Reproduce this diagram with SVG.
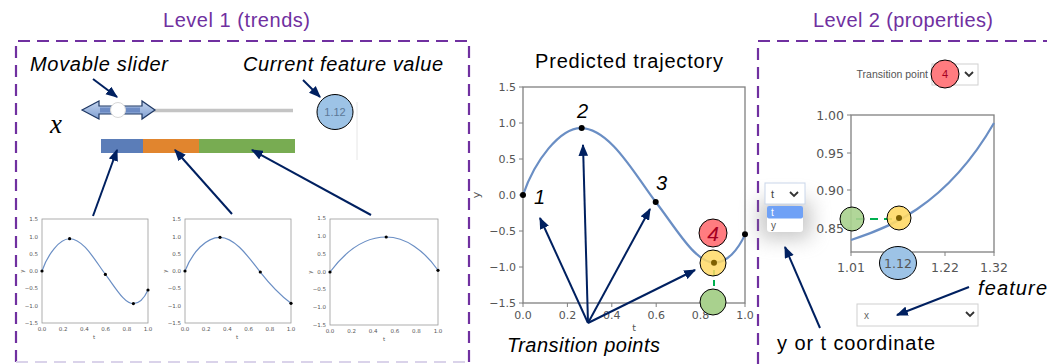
<svg xmlns="http://www.w3.org/2000/svg" width="1047" height="364" viewBox="0 0 1047 364">
<style>
.title{font-family:"Liberation Sans",Arial,sans-serif;font-size:20px;fill:#7030A0}
.lbl{font-family:"Liberation Sans",Arial,sans-serif;font-size:20px;fill:#000}
.it{font-style:italic}
.tk{font-family:"DejaVu Sans",sans-serif;font-size:11px;fill:#555}
.tks{font-family:"DejaVu Sans",sans-serif;font-size:5.5px;fill:#555}
.tkr{font-family:"DejaVu Sans",sans-serif;font-size:12.5px;fill:#555}
.ax{fill:#fff;stroke:#808080;stroke-width:1.3}
.axs{fill:#fff;stroke:#999;stroke-width:0.8}
.curve{fill:none;stroke:#6A8EC4;stroke-width:2.2}
.curves{fill:none;stroke:#6A8EC4;stroke-width:1.2}
.arr{fill:none;stroke:#002060;stroke-width:2;marker-end:url(#ah)}
.box{fill:none;stroke:#7030A0;stroke-width:2.2;stroke-dasharray:12 7}
.dd{fill:#fff;stroke:#D0D0D0;stroke-width:1}
.chev{fill:none;stroke:#333;stroke-width:1.8}
</style>
<defs>
<marker id="ah" viewBox="0 0 10 8" refX="9" refY="4" markerWidth="6" markerHeight="5" orient="auto" markerUnits="strokeWidth">
<path d="M0,0 L10,4 L0,8 Z" fill="#002060"/>
</marker>
<linearGradient id="sl" x1="0" y1="0" x2="0" y2="1">
<stop offset="0" stop-color="#C5D5EE"/>
<stop offset="1" stop-color="#7F9FD2"/>
</linearGradient>
<filter id="blur" x="-80%" y="-80%" width="260%" height="260%"><feGaussianBlur stdDeviation="10"/></filter>
<path id="c1" vector-effect="non-scaling-stroke" d="M0,0 C5.4,-48.6 16.7,-93 26,-93 C39.2,-93 50.5,-27.8 59.8,9.7 C68.9,45.8 77.5,94 86.2,94 C91.9,94 96.8,76.4 100,55"/>
<path id="c2" vector-effect="non-scaling-stroke" d="M0,0 C7,-55 20,-97 33,-97 C47,-97 60,-40 71,3 C80,38 90,70 100,93"/>
<path id="c3" vector-effect="non-scaling-stroke" d="M0,0 C15,-62 33,-100 52,-100 C70,-100 87,-62 100,-5"/>
</defs>
<rect width="1047" height="364" fill="#fff"/>

<!-- Level boxes -->
<g id="level1">
<text class="title" x="163" y="27" textLength="147">Level 1 (trends)</text>
<path class="box" d="M16,362 L16,41 L469,41 L469,362"/>
<path d="M16,362 L469,362" fill="none" stroke="#DAD3EA" stroke-width="2.2" stroke-dasharray="12 7"/>
</g>
<g id="level2">
<text class="title" x="813" y="27" textLength="180">Level 2 (properties)</text>
<path class="box" d="M758,364 L758,41 L1050,41"/>
</g>

<!-- slider -->
<g id="slider">
<text class="lbl it" x="30" y="71" textLength="138">Movable slider</text>
<line x1="150" y1="110.5" x2="293" y2="110.5" stroke="#C4C4C4" stroke-width="3.5"/>
<path d="M82,110 L99,101 L99,106 L142,106 L142,101 L155,110 L142,119 L142,114 L99,114 L99,119 Z" fill="url(#sl)" stroke="#1F3864" stroke-width="1.2"/>
<rect x="100" y="107.5" width="40" height="5" fill="#5F80BD" opacity="0.8"/>
<circle cx="118" cy="110" r="7.5" fill="#fff" stroke="#D8D8D8" stroke-width="1"/>
<text x="50" y="133" font-family="Liberation Serif,serif" font-style="italic" font-size="27" fill="#000">x</text>
</g>
<g id="value">
<text class="lbl it" x="243" y="71" textLength="200">Current feature value</text>
<line x1="357" y1="102" x2="357" y2="160" stroke="#E6E6E6" stroke-width="1"/>
<ellipse cx="335" cy="112" rx="18" ry="17.5" fill="#9DC3E6" stroke="#000" stroke-width="1"/>
<text x="335" y="116" text-anchor="middle" font-family="Liberation Sans,sans-serif" font-size="11" fill="#5C7896">1.12</text>
</g>
<g id="bar">
<rect x="101" y="139" width="42" height="14" fill="#5B7DB8"/>
<rect x="143" y="139" width="56" height="14" fill="#E1852E"/>
<rect x="199" y="139" width="96" height="14" fill="#78AC52"/>
</g>

<!-- small chart 1 -->
<g id="chart1">
<rect class="axs" x="42" y="219" width="106" height="104"/>
<g class="tks" text-anchor="end">
<text x="38" y="221">1.5</text><text x="38" y="239">1.0</text><text x="38" y="256">0.5</text><text x="38" y="273">0.0</text><text x="38" y="290">−0.5</text><text x="38" y="308">−1.0</text><text x="38" y="325">−1.5</text>
</g>
<g class="tks" text-anchor="middle">
<text x="42" y="331">0.0</text><text x="63.2" y="331">0.2</text><text x="84.4" y="331">0.4</text><text x="105.6" y="331">0.6</text><text x="126.8" y="331">0.8</text><text x="148" y="331">1.0</text>
<text x="94" y="339">t</text>
<text x="22" y="273" transform="rotate(-90 22 271)">y</text>
</g>
<use href="#c1" class="curves" transform="translate(42,271) scale(1.06,0.347)"/>
<g fill="#000"><circle cx="42" cy="271" r="1.6"/><circle cx="69.6" cy="238.7" r="1.6"/><circle cx="105.4" cy="274.4" r="1.6"/><circle cx="133.4" cy="303.6" r="1.6"/><circle cx="148" cy="290" r="1.6"/></g>
</g>

<!-- small chart 2 -->
<g id="chart2">
<rect class="axs" x="185" y="219" width="106" height="104"/>
<g class="tks" text-anchor="end">
<text x="181" y="221">1.5</text><text x="181" y="239">1.0</text><text x="181" y="256">0.5</text><text x="181" y="273">0.0</text><text x="181" y="290">−0.5</text><text x="181" y="308">−1.0</text><text x="181" y="325">−1.5</text>
</g>
<g class="tks" text-anchor="middle">
<text x="185" y="331">0.0</text><text x="206.2" y="331">0.2</text><text x="227.4" y="331">0.4</text><text x="248.6" y="331">0.6</text><text x="269.8" y="331">0.8</text><text x="291" y="331">1.0</text>
<text x="237" y="339">t</text>
<text x="165" y="273" transform="rotate(-90 165 271)">y</text>
</g>
<use href="#c2" class="curves" transform="translate(185,271) scale(1.06,0.347)"/>
<g fill="#000"><circle cx="185" cy="271" r="1.6"/><circle cx="220" cy="237.3" r="1.6"/><circle cx="260.3" cy="272" r="1.6"/><circle cx="291" cy="303.3" r="1.6"/></g>
</g>

<!-- small chart 3 -->
<g id="chart3">
<rect class="axs" x="330" y="219" width="108" height="106"/>
<g class="tks" text-anchor="end">
<text x="326" y="220">1.5</text><text x="326" y="238">1.0</text><text x="326" y="256">0.5</text><text x="326" y="274">0.0</text><text x="326" y="291">−0.5</text><text x="326" y="309">−1.0</text><text x="326" y="327">−1.5</text>
</g>
<g class="tks" text-anchor="middle">
<text x="330" y="333">0.0</text><text x="351.6" y="333">0.2</text><text x="373.2" y="333">0.4</text><text x="394.8" y="333">0.6</text><text x="416.4" y="333">0.8</text><text x="438" y="333">1.0</text>
<text x="384" y="341">t</text>
<text x="310" y="274" transform="rotate(-90 310 272)">y</text>
</g>
<use href="#c3" class="curves" transform="translate(330,272) scale(1.08,0.35)"/>
<g fill="#000"><circle cx="330" cy="272" r="1.6"/><circle cx="386.2" cy="237" r="1.6"/><circle cx="438" cy="270.3" r="1.6"/></g>
</g>

<!-- main trajectory -->
<g id="trajectory">
<text class="lbl" x="535" y="68" textLength="188">Predicted trajectory</text>
<rect class="ax" x="523" y="87" width="222" height="216"/>
<g stroke="#808080" stroke-width="1">
<path d="M519,87 H523 M519,123 H523 M519,159 H523 M519,195 H523 M519,231 H523 M519,267 H523 M519,303 H523"/>
<path d="M523,303 V307 M567.4,303 V307 M611.8,303 V307 M656.2,303 V307 M700.6,303 V307 M745,303 V307"/>
</g>
<g class="tk" text-anchor="end">
<text x="516" y="91">1.5</text><text x="516" y="127">1.0</text><text x="516" y="163">0.5</text><text x="516" y="199">0.0</text><text x="516" y="235">−0.5</text><text x="516" y="271">−1.0</text><text x="516" y="307">−1.5</text>
</g>
<g class="tk" text-anchor="middle">
<text x="523" y="319">0.0</text><text x="567.4" y="319">0.2</text><text x="611.8" y="319">0.4</text><text x="656.2" y="319">0.6</text><text x="700.6" y="319">0.8</text><text x="745" y="319">1.0</text>
<text x="477" y="198" transform="rotate(-90 477 195)">y</text>
</g>
<text x="634" y="331" text-anchor="middle" font-family="DejaVu Sans,sans-serif" font-size="9.5" fill="#555">t</text>
<use href="#c1" class="curve" transform="translate(523,195) scale(2.22,0.72)"/>
<g fill="#000"><circle cx="523" cy="195" r="3"/><circle cx="581.7" cy="128" r="3"/><circle cx="655.7" cy="202" r="3"/><circle cx="745" cy="234.3" r="3"/></g>
<g class="lbl it"><text x="534" y="204">1</text><text x="577" y="118">2</text><text x="656" y="190">3</text></g>
<line x1="714" y1="270" x2="714" y2="294" stroke="#00B050" stroke-width="2" stroke-dasharray="6 4"/>
<circle cx="713" cy="233" r="14" fill="#FF7C80" stroke="#000" stroke-width="1"/>
<text x="713" y="241" text-anchor="middle" class="it" font-family="Liberation Sans,sans-serif" font-size="21" fill="#A50021">4</text>
<circle cx="713" cy="263" r="13" fill="#FFD966" fill-opacity="0.85" stroke="#000" stroke-width="1"/>
<circle cx="714" cy="262.7" r="3" fill="#7F6000"/>
<circle cx="713" cy="302" r="13" fill="#A9D18E" stroke="#000" stroke-width="1"/>
</g>

<!-- properties -->
<g id="transition-select">
<text x="928" y="78" text-anchor="end" font-family="Liberation Sans,sans-serif" font-size="10.5" fill="#555">Transition point</text>
<rect class="dd" x="932" y="64" width="46" height="21"/>
<path class="chev" d="M965,72 L969,76 L973,72"/>
<circle cx="945" cy="74" r="14" fill="#FF7C80" stroke="#000" stroke-width="1"/>
<text x="945" y="78" text-anchor="middle" font-family="Liberation Sans,sans-serif" font-size="11" fill="#A50021">4</text>
</g>
<g id="property-plot">
<rect class="ax" x="851" y="115" width="143" height="137"/>
<g stroke="#808080" stroke-width="1">
<path d="M847,115 H851 M847,153 H851 M847,190 H851 M847,228 H851"/>
<path d="M851,252 V256 M898,252 V256 M945,252 V256 M994,252 V256"/>
</g>
<g class="tkr" text-anchor="end">
<text x="844" y="120">1.00</text><text x="844" y="158">0.95</text><text x="844" y="195">0.90</text><text x="844" y="233">0.85</text>
</g>
<g class="tkr" text-anchor="middle">
<text x="851" y="272">1.01</text><text x="945" y="272">1.22</text><text x="994" y="272">1.32</text>
</g>
<path d="M851,240 C885,229 945,208 994,123" fill="none" stroke="#6A8EC4" stroke-width="2.2"/>
<line x1="856" y1="219" x2="895" y2="219" stroke="#00B050" stroke-width="2" stroke-dasharray="8 6"/>
<circle cx="852" cy="219" r="12" fill="#A9D18E" fill-opacity="0.9" stroke="#000" stroke-width="1"/>
<circle cx="899" cy="218" r="12" fill="#FFD966" fill-opacity="0.9" stroke="#000" stroke-width="1"/>
<circle cx="899" cy="218" r="3" fill="#7F6000"/>
<ellipse cx="898" cy="263" rx="18.5" ry="16.5" fill="#9DC3E6" stroke="#000" stroke-width="1"/>
<text x="898" y="268" text-anchor="middle" class="tkr" fill="#6A7E94">1.12</text>
</g>
<g id="coord-select">
<rect x="760" y="200" width="50" height="38" fill="#888" opacity="0.5" filter="url(#blur)"/>
<rect x="765" y="183" width="40" height="21" fill="#fff" stroke="#C9D6EA" stroke-width="1"/>
<text x="771" y="198" font-family="Liberation Sans,sans-serif" font-size="11" fill="#444">t</text>
<path class="chev" d="M790,192 L794,196 L798,192"/>
<rect x="767" y="206" width="36" height="26" rx="3" fill="#fff"/>
<rect x="767" y="206" width="36" height="12.5" rx="2" fill="#6FA1F6"/>
<text x="771" y="216" font-family="Liberation Sans,sans-serif" font-size="10" fill="#fff">t</text>
<text x="771" y="229" font-family="Liberation Sans,sans-serif" font-size="10" fill="#555">y</text>
</g>
<g id="feature-select">
<rect class="dd" x="857" y="304" width="121" height="22"/>
<text x="864" y="319" font-family="Liberation Sans,sans-serif" font-size="10" fill="#666">x</text>
<path class="chev" d="M966,312 L970,316 L974,312"/>
<text class="lbl it" x="978" y="295" textLength="69">feature</text>
</g>
<g id="labels">
<text class="lbl it" x="507" y="352" textLength="153">Transition points</text>
<text class="lbl" x="777" y="350" textLength="158">y or t coordinate</text>
</g>

<!-- connectors -->
<g id="connectors">
<path class="arr" d="M93,79 L117,97"/>
<path class="arr" d="M303,80 L320,97"/>
<path class="arr" d="M93,216 L117,150"/>
<path class="arr" d="M232,214 L175,150"/>
<path class="arr" d="M371,215 L252,150"/>
<path class="arr" d="M588,323 L540,218"/>
<path class="arr" d="M588,323 L583,145"/>
<path class="arr" d="M588,323 L650,209"/>
<path class="arr" d="M588,323 L695,270"/>
<path class="arr" d="M820,328 L785,247"/>
<path class="arr" d="M969,287 L897,315"/>
</g>
</svg>
